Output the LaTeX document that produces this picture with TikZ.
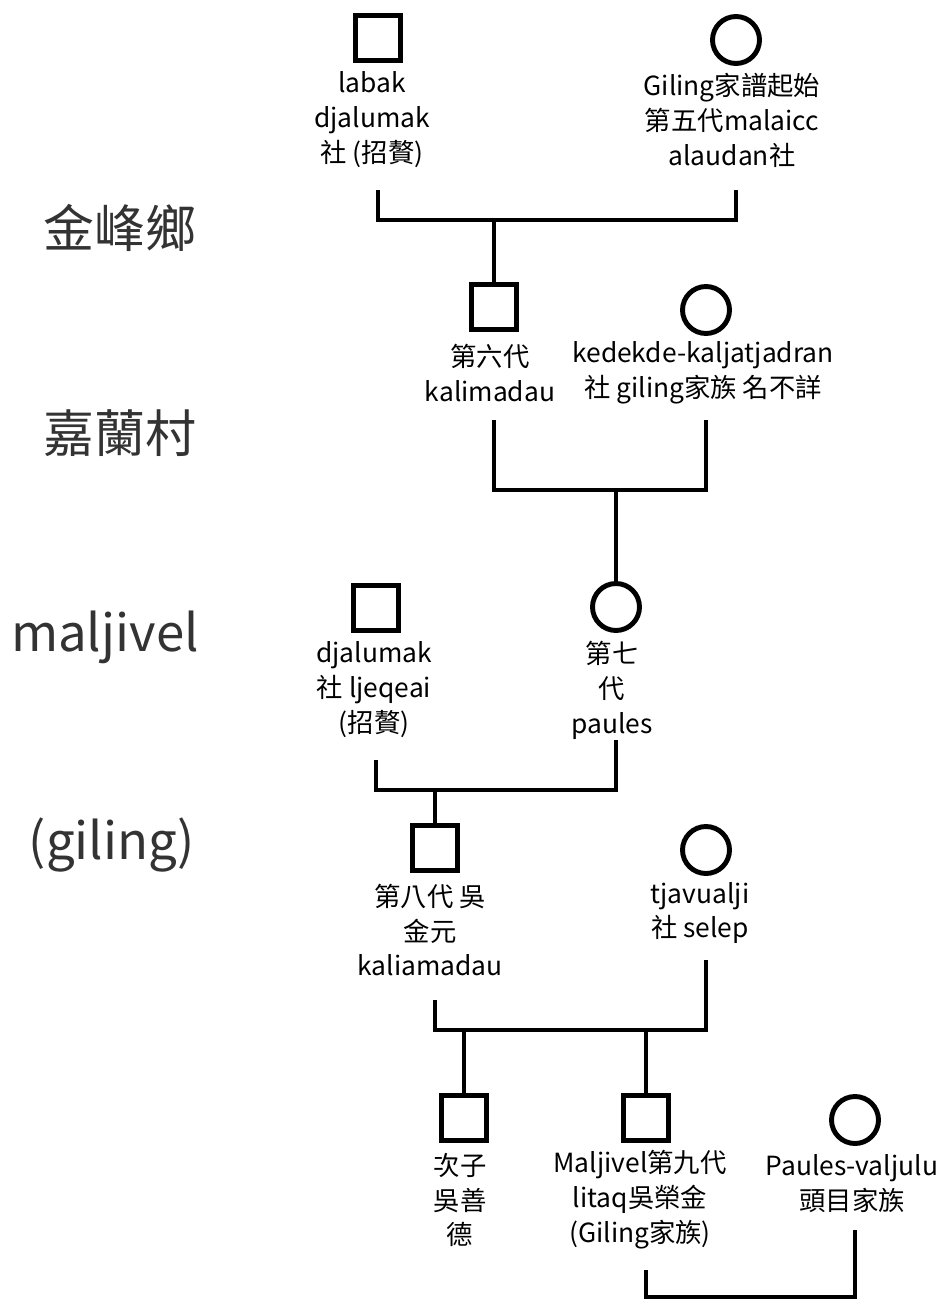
\documentclass[tikz,border=0pt]{standalone}
\usepackage{fontspec}
\setmainfont{Noto Sans CJK TC}

\begin{document}
\begin{tikzpicture}[x=0.02cm,y=-0.02cm,
    male/.style={draw,line width=2.8pt,minimum size=0.9cm,inner sep=0pt},
    female/.style={draw,circle,line width=2.8pt,minimum size=0.94cm,inner sep=0pt},
    info/.style={align=center,font=\fontsize{15}{19.9}\selectfont,inner sep=0pt},
    place/.style={font=\fontsize{29}{32}\selectfont,text=black!80,inner sep=0pt},
    link/.style={line width=2.8pt}]
    \useasboundingbox (0,0) rectangle (946,1301);
    % places
    \node[place] (l1) at (120,228) {金峰鄉};
    \node[place] (l2) at (120,433) {嘉蘭村};
    \node[place] (l3) at (105,637) {maljivel};
    \node[place] (l4) at (112,845) {(giling)};
    % persons
    \node[male] (pA) at (378,38) {};
    \node[female] (pB) at (736,40) {};
    \node[info] (tA) at (372,120) {labak\\djalumak\\社 (招贅)};
    \node[info] (tB) at (732,120) {Giling家譜起始\\第五代malaicc\\alaudan社};
    \node[male] (pC) at (494,307) {};
    \node[female] (pD) at (706,310) {};
    \node[info] (tC) at (490,373) {第六代\\kalimadau};
    \node[info] (tD) at (703,373) {kedekde-kaljatjadran\\社 giling家族 名不詳};
    \node[male] (pF) at (376,608) {};
    \node[female] (pE) at (616,607) {};
    \node[info] (tF) at (374,690) {djalumak\\社 ljeqeai\\(招贅)};
    \node[info] (tE) at (612,690) {第七\\代\\paules};
    \node[male] (pG) at (435,848) {};
    \node[female] (pH) at (706,850) {};
    \node[info] (tG) at (430,930) {第八代 吳\\金元\\kaliamadau};
    \node[info] (tH) at (700,913) {tjavualji\\社 selep};
    \node[male] (pI) at (464,1118) {};
    \node[male] (pJ) at (646,1118) {};
    \node[female] (pK) at (855,1120) {};
    \node[info] (tI) at (460,1200) {次子\\吳善\\德};
    \node[info] (tJ) at (640,1200) {Maljivel第九代\\litaq吳榮金\\(Giling家族)};
    \node[info] (tK) at (852,1184) {Paules-valjulu\\頭目家族};
    % couples
    \coordinate (j1) at (pC|-0,220);
    \draw[link] (pA|-0,190) |- (j1) -| (pB|-0,190);
    \draw[link] (j1) -- (pC);
    \coordinate (j2) at (pE|-0,490);
    \draw[link] (pC|-0,420) |- (j2) -| (pD|-0,420);
    \draw[link] (j2) -- (pE);
    \coordinate (j3) at (pG|-0,790);
    \draw[link] (pF|-0,760) |- (j3) -| (pE|-0,740);
    \draw[link] (j3) -- (pG);
    \coordinate (j4) at (pI|-0,1030);
    \draw[link] (pG|-0,1000) |- (j4) -| (pH|-0,960);
    \draw[link] (j4) -- (pI);
    \draw[link] (pJ|-j4) -- (pJ);
    \coordinate (j5) at (750,1297);
    \draw[link] (pJ|-0,1270) |- (j5) -| (pK|-0,1230);
\end{tikzpicture}
\end{document}
